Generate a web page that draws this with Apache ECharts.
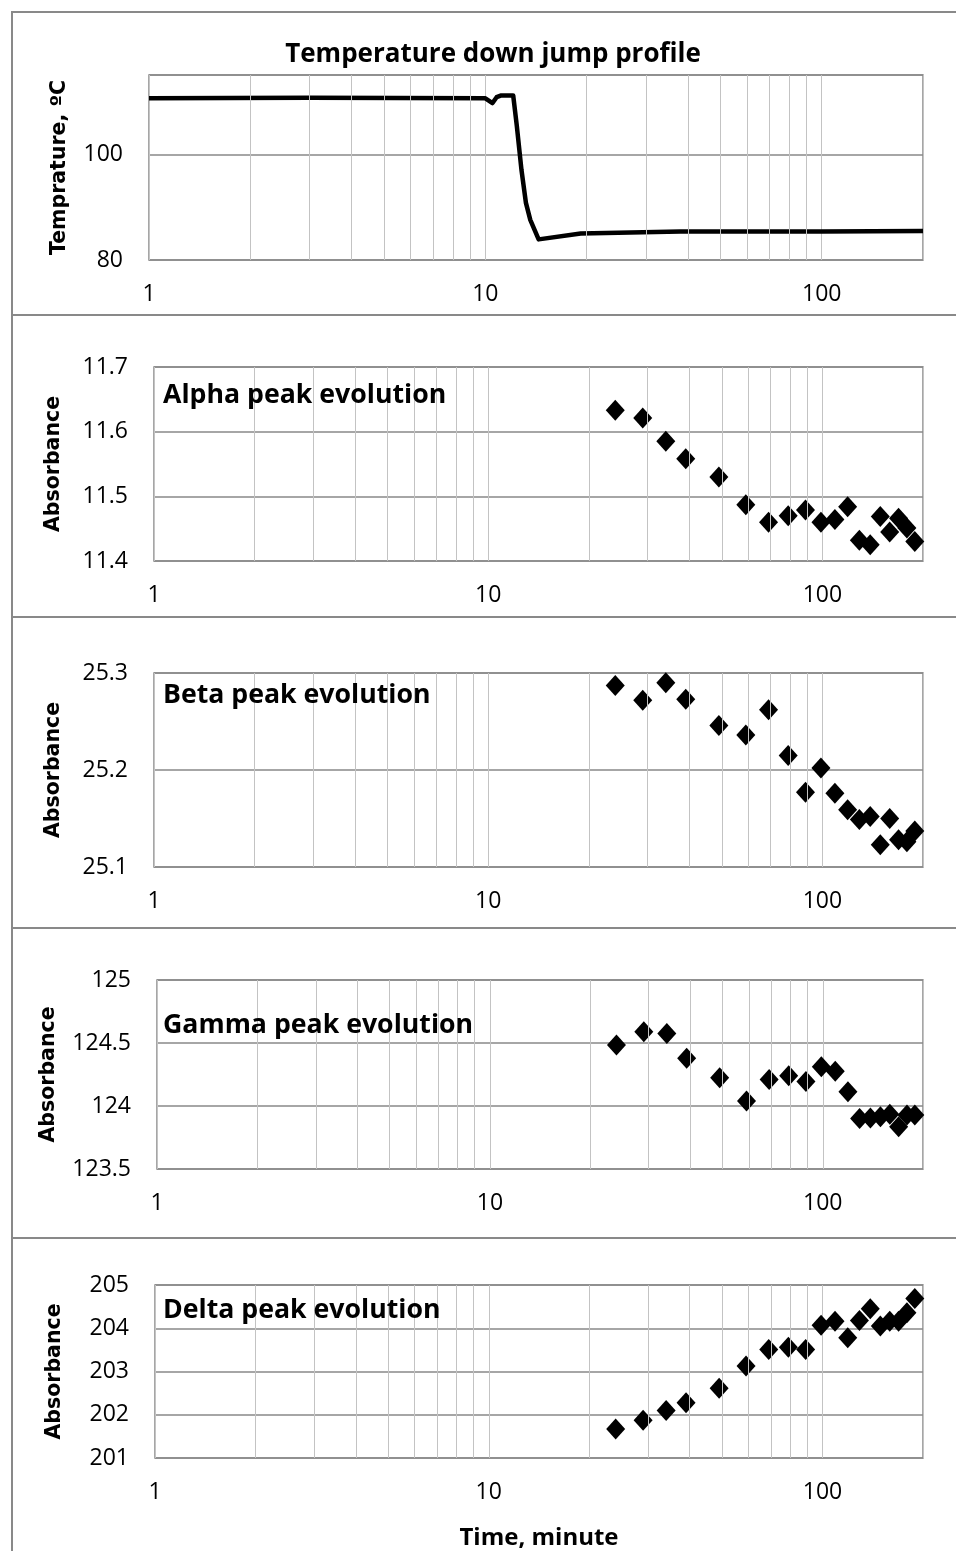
<!DOCTYPE html>
<html>
<head>
<meta charset="utf-8">
<title>Temperature down jump and peak evolution</title>
<script src="https://cdn.jsdelivr.net/npm/echarts@6/dist/echarts.min.js"></script>
<style>
  html, body { margin: 0; padding: 0; background: #fff; }
  #chart { width: 956px; height: 1551px; }
</style>
</head>
<body>
<div id="chart"></div>
<script>
// Temperature profile (time in minutes, temperature in °C)
const tempTime = [1, 3, 10, 10.5, 10.8, 11.1, 12.1, 12.4, 12.8, 13.2, 13.6, 14.4, 19.2, 38, 100, 200];
const tempValue = [110.6, 110.7, 110.6, 109.7, 110.8, 111.1, 111.1, 105.4, 97.1, 90.8, 87.6, 83.9, 85.0, 85.4, 85.4, 85.5];

// Sampling times of the peak measurements (minutes)
const peakTime = [24, 29, 34, 39, 49, 59, 69, 79, 89, 99, 109, 119, 129, 139, 149, 159, 169, 179, 189];

// Absorbance of each peak at the sampling times
const alphaValue = [11.633, 11.621, 11.585, 11.558, 11.530, 11.487, 11.460, 11.470, 11.479, 11.460, 11.464, 11.484, 11.432, 11.425, 11.469, 11.445, 11.466, 11.451, 11.430];
const betaValue  = [25.287, 25.272, 25.290, 25.273, 25.246, 25.236, 25.262, 25.215, 25.177, 25.202, 25.176, 25.159, 25.149, 25.152, 25.123, 25.150, 25.128, 25.126, 25.137];
const gammaValue = [124.484, 124.590, 124.575, 124.379, 124.225, 124.040, 124.210, 124.241, 124.194, 124.312, 124.275, 124.114, 123.900, 123.905, 123.915, 123.934, 123.836, 123.929, 123.929];
const deltaValue = [201.67, 201.87, 202.10, 202.28, 202.61, 203.13, 203.51, 203.56, 203.51, 204.07, 204.16, 203.78, 204.18, 204.45, 204.05, 204.16, 204.16, 204.36, 204.69];

// Axis ranges and labels
const timeRange = [1, 200];
const minorTimeLines = [2, 3, 4, 5, 6, 7, 8, 9, 20, 30, 40, 50, 60, 70, 80, 90];
const panelTitles = ['Temperature down jump profile', 'Alpha peak evolution', 'Beta peak evolution', 'Gamma peak evolution', 'Delta peak evolution'];
const yNames = ['Temprature, ºC', 'Absorbance', 'Absorbance', 'Absorbance', 'Absorbance'];
const yRanges = [[80, 115, 20], [11.4, 11.7, 0.1], [25.1, 25.3, 0.1], [123.5, 125, 0.5], [201, 205, 1]];
const xName = 'Time, minute';

// Layout of the five stacked panels
const grids = [
  { left: 149, right: 33, top: 75, height: 185 },
  { left: 154, right: 33, top: 367, height: 194 },
  { left: 154, right: 33, top: 673, height: 194 },
  { left: 157, right: 33, top: 980, height: 189 },
  { left: 155, right: 33, top: 1285, height: 183 }
];
const panelFrames = [[12, 303], [315, 302], [617, 311], [928, 310], [1238, 400]];
const nameGaps = [79, 90, 90, 98, 90];

const labelFont = '"Open Sans", "Noto Sans", sans-serif';
const boldFont = '"Open Sans", "Noto Sans", sans-serif';
const nameFont = '"DejaVu Sans", "Noto Sans", sans-serif';

const chart = echarts.init(document.getElementById('chart'), null, { renderer: 'canvas' });

const xAxes = grids.map((g, i) => ({
  type: 'log',
  logBase: 10,
  gridIndex: i,
  min: timeRange[0],
  max: timeRange[1],
  axisLine: { show: false },
  axisTick: { show: false },
  axisLabel: {
    show: true, margin: 23, fontSize: 23, color: '#000', fontFamily: labelFont,
    showMaxLabel: false
  },
  splitLine: { show: true, lineStyle: { color: '#c3c3c3', width: 1 } },
  name: i === 4 ? xName : '',
  nameLocation: 'middle',
  nameGap: 68,
  nameTextStyle: { fontSize: 24, fontWeight: 'bold', color: '#000', fontFamily: boldFont }
}));

const yAxes = grids.map((g, i) => ({
  type: 'value',
  gridIndex: i,
  min: yRanges[i][0],
  max: yRanges[i][1],
  interval: yRanges[i][2],
  axisLine: { show: false },
  axisTick: { show: false },
  axisLabel: {
    margin: 26, fontSize: 23, color: '#000', fontFamily: labelFont,
    showMaxLabel: i !== 0
  },
  splitLine: { show: true, lineStyle: { color: '#898989', width: 1.5 } },
  name: yNames[i],
  nameLocation: 'middle',
  nameGap: nameGaps[i],
  nameTextStyle: { fontSize: 20.5, fontWeight: 'bold', color: '#000', fontFamily: nameFont }
}));

const gridLineSeries = (i) => ({
  type: 'line',
  xAxisIndex: i, yAxisIndex: i,
  data: [],
  silent: true,
  z: 1,
  markLine: {
    silent: true,
    symbol: ['none', 'none'],
    label: { show: false },
    animation: false,
    lineStyle: { color: '#c3c3c3', width: 1, type: 'solid' },
    data: minorTimeLines.map(v => ({ xAxis: v }))
  }
});

const peakSets = [alphaValue, betaValue, gammaValue, deltaValue];

const series = [];
for (let i = 0; i < 5; i++) series.push(gridLineSeries(i));
series.push({
  type: 'line',
  xAxisIndex: 0, yAxisIndex: 0,
  data: tempTime.map((t, k) => [t, tempValue[k]]),
  showSymbol: false,
  symbol: 'none',
  lineStyle: { color: '#000', width: 4.5, join: 'round' },
  z: 3
});
peakSets.forEach((vals, k) => {
  series.push({
    type: 'scatter',
    xAxisIndex: k + 1, yAxisIndex: k + 1,
    data: peakTime.map((t, j) => [t, vals[j]]),
    symbol: 'diamond',
    symbolSize: [19, 21],
    itemStyle: { color: '#000', opacity: 1 },
    z: 3
  });
});

const graphics = [];
panelFrames.forEach(([y, h]) => {
  graphics.push({
    type: 'rect', silent: true, z: -1,
    shape: { x: 12, y: y, width: 1000, height: h },
    style: { fill: 'none', stroke: '#898989', lineWidth: 2 }
  });
});
// Chart title of the temperature panel
graphics.push({
  type: 'text', silent: true,
  style: {
    text: panelTitles[0], x: 493, y: 55, align: 'center', verticalAlign: 'middle',
    font: 'bold 26px ' + boldFont, fill: '#000'
  }
});
// In-plot labels of the absorbance panels
const labelY = [0, 395, 695, 1025, 1310];
for (let i = 1; i < 5; i++) {
  graphics.push({
    type: 'text', silent: true, z: 10,
    style: {
      text: panelTitles[i], x: 163, y: labelY[i], align: 'left', verticalAlign: 'middle',
      font: 'bold 26.7px ' + boldFont, fill: '#000'
    }
  });
}

chart.setOption({
  animation: false,
  backgroundColor: '#fff',
  grid: grids.map(g => Object.assign({ show: true, borderColor: '#898989', borderWidth: 1.5, backgroundColor: 'transparent' }, g)),
  xAxis: xAxes,
  yAxis: yAxes,
  series: series,
  graphic: graphics
});
</script>
</body>
</html>
